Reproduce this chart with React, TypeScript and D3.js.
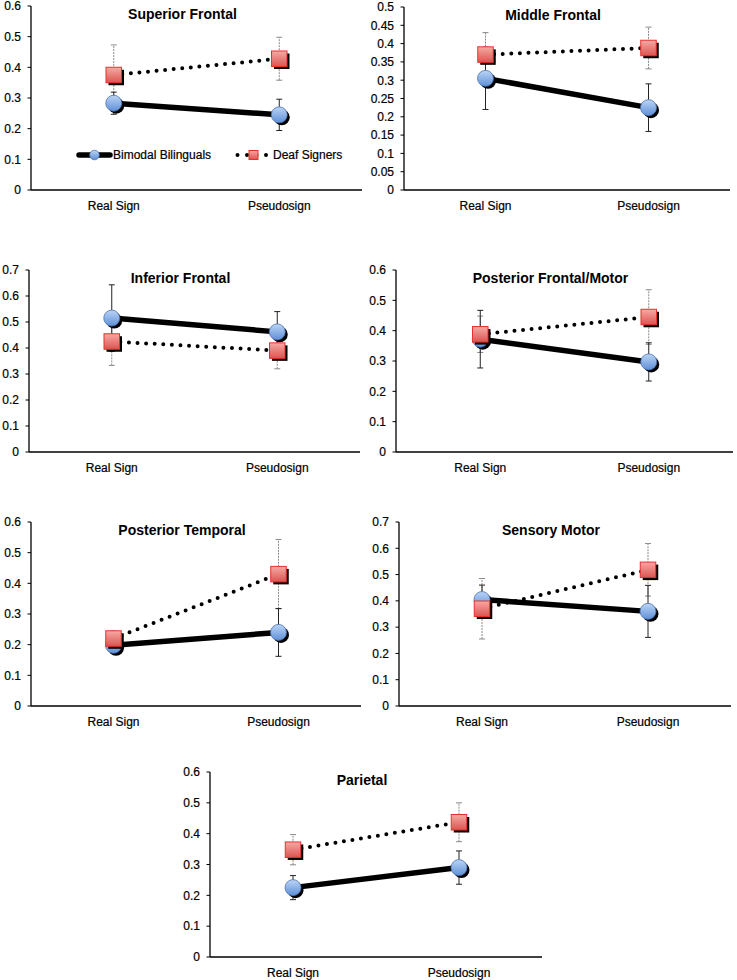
import React from "react";
import * as d3 from "d3";

const categories = ["Real Sign", "Pseudosign"];
const regions = [
  "Superior Frontal",
  "Middle Frontal",
  "Inferior Frontal",
  "Posterior Frontal/Motor",
  "Posterior Temporal",
  "Sensory Motor",
  "Parietal",
];
const seriesNames = ["Bimodal Bilinguals", "Deaf Signers"];
const bimodalMeans = [
  [0.283, 0.245],
  [0.305, 0.225],
  [0.515, 0.462],
  [0.372, 0.297],
  [0.198, 0.24],
  [0.405, 0.36],
  [0.225, 0.29],
];
const bimodalErr = [
  [0.036, 0.051],
  [0.085, 0.065],
  [0.128, 0.078],
  [0.095, 0.063],
  [0.02, 0.078],
  [0.055, 0.099],
  [0.039, 0.054],
];
const deafMeans = [
  [0.375, 0.428],
  [0.37, 0.388],
  [0.425, 0.39],
  [0.388, 0.445],
  [0.22, 0.43],
  [0.37, 0.518],
  [0.348, 0.437],
];
const deafErr = [
  [0.098, 0.07],
  [0.06, 0.057],
  [0.092, 0.07],
  [0.06, 0.09],
  [0.025, 0.113],
  [0.115, 0.1],
  [0.049, 0.063],
];
const yMax = [0.6, 0.5, 0.7, 0.6, 0.6, 0.7, 0.6];
const yStep = [0.1, 0.05, 0.1, 0.1, 0.1, 0.1, 0.1];

// layout (pixel geometry of each panel)
const layout = [
  { x0: 31, x1: 362, yb: 190, yt: 6 },
  { x0: 404, x1: 730, yb: 190, yt: 7 },
  { x0: 29, x1: 360, yb: 452, yt: 270 },
  { x0: 396, x1: 733, yb: 452, yt: 270 },
  { x0: 31, x1: 361, yb: 706, yt: 522 },
  { x0: 399, x1: 731, yb: 706, yt: 522 },
  { x0: 210, x1: 542, yb: 957, yt: 772 },
];

const FONT = "'Liberation Sans', Arial, sans-serif";
const R = 8;
const SQ = 15.5;
const SH = 2.5;

function fmt(v: number) {
  return String(+v.toFixed(2));
}

function Circle({ cx, cy, r }: { cx: number; cy: number; r: number }) {
  return (
    <g>
      <circle cx={cx + SH * (r / R)} cy={cy + SH * (r / R)} r={r} fill="#000" />
      <circle cx={cx} cy={cy} r={r} fill="url(#blueGrad)" stroke="#4d74b0" strokeWidth={0.8} />
    </g>
  );
}

function Square({ cx, cy, s }: { cx: number; cy: number; s: number }) {
  return (
    <g>
      <rect x={cx - s / 2 + SH * (s / SQ)} y={cy - s / 2 + SH * (s / SQ)} width={s} height={s} fill="#000" />
      <rect x={cx - s / 2} y={cy - s / 2} width={s} height={s} fill="url(#redGrad)" stroke="#e8302c" strokeWidth={1} />
    </g>
  );
}

function Panel({ i }: { i: number }) {
  const L = layout[i];
  const x = d3.scalePoint<string>().domain(categories).range([L.x0, L.x1]).padding(0.5);
  const y = d3.scaleLinear().domain([0, yMax[i]]).range([L.yb, L.yt]);
  const ticks = d3.range(0, yMax[i] + yStep[i] / 2, yStep[i]);
  const line = d3
    .line<number>()
    .x((_, k) => x(categories[k]) as number)
    .y((v) => y(v));
  const errBar = (m: number, e: number, cx: number, color: string, dash?: string, key?: string) => (
    <g key={key} stroke={color} strokeWidth={1} fill="none">
      <line x1={cx} x2={cx} y1={y(m - e)} y2={y(m + e)} strokeDasharray={dash} />
      <line x1={cx - 3} x2={cx + 3} y1={y(m - e)} y2={y(m - e)} />
      <line x1={cx - 3} x2={cx + 3} y1={y(m + e)} y2={y(m + e)} />
    </g>
  );
  return (
    <g>
      {/* axes */}
      <line x1={L.x0} x2={L.x0} y1={L.yt} y2={L.yb} stroke="#000" strokeWidth={1.3} />
      <line x1={L.x0} x2={L.x1} y1={L.yb} y2={L.yb} stroke="#000" strokeWidth={1.3} />
      {ticks.map((t) => (
        <g key={t}>
          <line x1={L.x0 - 3.5} x2={L.x0} y1={y(t)} y2={y(t)} stroke="#000" strokeWidth={1} />
          <text
            x={L.x0 - 10}
            y={y(t)}
            dy="0.36em"
            textAnchor="end"
            fontSize={12}
            fontFamily={FONT}
            fill="#000"
            stroke="#000"
            strokeWidth={0.2}
          >
            {fmt(t)}
          </text>
        </g>
      ))}
      {categories.map((c) => (
        <text
          key={c}
          x={x(c)}
          y={L.yb + 19.5}
          textAnchor="middle"
          fontSize={12}
          fontFamily={FONT}
          fill="#000"
          stroke="#000"
          strokeWidth={0.2}
        >
          {c}
        </text>
      ))}
      <text
        x={(L.x0 - 28 + L.x1) / 2}
        y={L.yt + 13}
        textAnchor="middle"
        fontSize={14}
        fontWeight="bold"
        fontFamily={FONT}
        fill="#000"
      >
        {regions[i]}
      </text>
      {/* error bars */}
      {categories.map((c, k) => errBar(deafMeans[i][k], deafErr[i][k], x(c) as number, "#8a8a8a", "2 1", "d" + k))}
      {categories.map((c, k) => errBar(bimodalMeans[i][k], bimodalErr[i][k], x(c) as number, "#222", undefined, "b" + k))}
      {/* bimodal series */}
      <path d={line(bimodalMeans[i]) as string} stroke="#000" strokeWidth={5.5} fill="none" strokeLinecap="round" />
      {categories.map((c, k) => (
        <Circle key={c} cx={x(c) as number} cy={y(bimodalMeans[i][k])} r={R} />
      ))}
      {/* deaf series */}
      <path
        d={line(deafMeans[i]) as string}
        stroke="#000"
        strokeWidth={4}
        fill="none"
        strokeLinecap="round"
        strokeDasharray="0 8.6"
      />
      {categories.map((c, k) => (
        <Square key={c} cx={x(c) as number} cy={y(deafMeans[i][k])} s={SQ} />
      ))}
    </g>
  );
}

function Legend() {
  const yL = 155;
  return (
    <g>
      <line x1={79} x2={110} y1={yL} y2={yL} stroke="#000" strokeWidth={5.5} strokeLinecap="round" />
      <circle cx={94.5} cy={yL} r={4.8} fill="url(#blueGrad)" stroke="#4d74b0" strokeWidth={0.8} />
      <text x={113} y={yL} dy="0.36em" fontSize={12} fontFamily={FONT} fill="#000" stroke="#000" strokeWidth={0.2}>
        {seriesNames[0]}
      </text>
      <line x1={237.5} x2={267} y1={yL} y2={yL} stroke="#000" strokeWidth={4} strokeLinecap="round" strokeDasharray="0 9.5" />
      <rect x={249} y={yL - 4.5} width={9} height={9} fill="url(#redGrad)" stroke="#e8302c" strokeWidth={1} />
      <text x={273} y={yL} dy="0.36em" fontSize={12} fontFamily={FONT} fill="#000" stroke="#000" strokeWidth={0.2}>
        {seriesNames[1]}
      </text>
    </g>
  );
}

export default function App() {
  return (
    <svg
      width={737}
      height={980}
      style={{ position: "absolute", left: 0, top: 0, background: "#fff" }}
    >
      <defs>
        <linearGradient id="blueGrad" x1="0" y1="0" x2="0" y2="1">
          <stop offset="0" stopColor="#bcd5f5" />
          <stop offset="1" stopColor="#5e90d8" />
        </linearGradient>
        <linearGradient id="redGrad" x1="0" y1="0" x2="0" y2="1">
          <stop offset="0" stopColor="#f6aaa6" />
          <stop offset="1" stopColor="#dc5450" />
        </linearGradient>
      </defs>
      <rect width={737} height={980} fill="#fff" />
      {regions.map((_, i) => (
        <Panel key={i} i={i} />
      ))}
      <Legend />
    </svg>
  );
}
